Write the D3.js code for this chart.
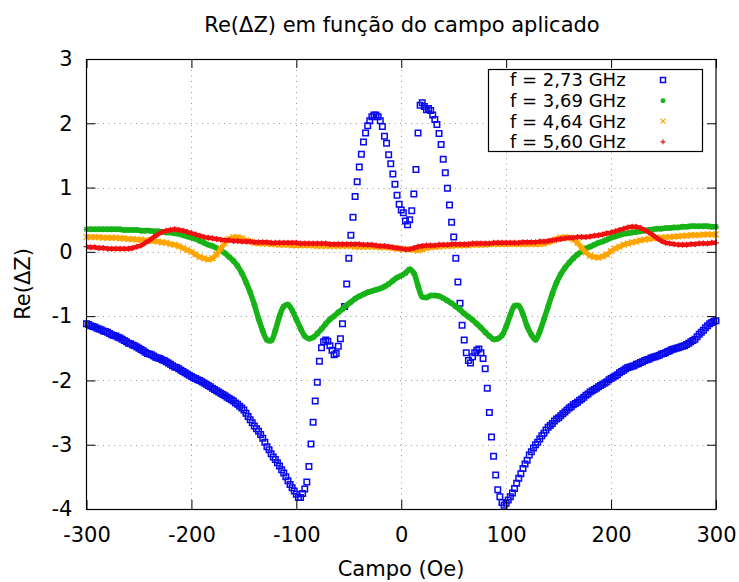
<!DOCTYPE html>
<html>
<head>
<meta charset="utf-8">
<script src="https://cdn.jsdelivr.net/npm/d3@7"></script>
<style>
  body { margin: 0; background: #fff; }
  svg { font-family: "DejaVu Sans", sans-serif; }
</style>
</head>
<body>
<svg id="chart" width="739" height="582"></svg>
<script>
// campo aplicado (Oe)
const fieldBlue = d3.range(-300, 301, 2);
const fieldSmooth = d3.range(-300, 301, 4);

// f = 2,73 GHz  (step 2 Oe)
const reBlue = [
  -1.12,-1.13,-1.15,-1.16,-1.17,-1.19,-1.20,-1.21,-1.23,-1.24,
  -1.25,-1.27,-1.29,-1.30,-1.31,-1.33,-1.34,-1.36,-1.38,-1.40,
  -1.42,-1.43,-1.45,-1.46,-1.48,-1.50,-1.52,-1.54,-1.56,-1.58,
  -1.59,-1.60,-1.62,-1.64,-1.65,-1.66,-1.68,-1.69,-1.71,-1.73,
  -1.75,-1.77,-1.79,-1.80,-1.82,-1.84,-1.86,-1.88,-1.90,-1.92,
  -1.94,-1.96,-1.97,-1.99,-2.00,-2.02,-2.04,-2.06,-2.08,-2.10,
  -2.12,-2.14,-2.16,-2.18,-2.20,-2.22,-2.24,-2.26,-2.28,-2.30,
  -2.32,-2.35,-2.37,-2.40,-2.43,-2.46,-2.51,-2.56,-2.61,-2.66,
  -2.71,-2.75,-2.79,-2.84,-2.90,-2.96,-3.03,-3.08,-3.14,-3.19,
  -3.23,-3.28,-3.33,-3.39,-3.44,-3.50,-3.56,-3.62,-3.67,-3.72,
  -3.77,-3.82,-3.82,-3.76,-3.69,-3.58,-3.34,-2.99,-2.65,-2.32,
  -2.03,-1.70,-1.49,-1.40,-1.37,-1.39,-1.46,-1.53,-1.60,-1.58,
  -1.47,-1.35,-1.12,-0.85,-0.50,-0.10,0.26,0.54,0.86,1.09,
  1.32,1.52,1.71,1.85,1.96,2.04,2.10,2.13,2.13,2.10,
  2.04,1.95,1.80,1.69,1.51,1.37,1.21,1.05,0.88,0.74,
  0.65,0.61,0.48,0.42,0.50,0.64,0.90,1.28,1.85,2.28,
  2.32,2.26,2.21,2.23,2.20,2.13,2.06,1.98,1.84,1.67,
  1.44,1.23,0.99,0.73,0.46,0.23,-0.10,-0.47,-0.80,-1.14,
  -1.37,-1.57,-1.69,-1.73,-1.63,-1.57,-1.53,-1.51,-1.57,-1.66,
  -1.82,-2.12,-2.50,-2.88,-3.18,-3.47,-3.70,-3.81,-3.90,-3.94,
  -3.91,-3.86,-3.81,-3.75,-3.68,-3.60,-3.52,-3.45,-3.37,-3.30,
  -3.24,-3.16,-3.11,-3.05,-3.00,-2.96,-2.91,-2.86,-2.82,-2.77,
  -2.73,-2.70,-2.67,-2.63,-2.60,-2.58,-2.55,-2.52,-2.49,-2.46,
  -2.43,-2.41,-2.38,-2.36,-2.34,-2.31,-2.29,-2.26,-2.23,-2.21,
  -2.18,-2.16,-2.14,-2.12,-2.10,-2.08,-2.06,-2.04,-2.02,-1.99,
  -1.97,-1.95,-1.93,-1.91,-1.88,-1.86,-1.84,-1.82,-1.80,-1.79,
  -1.78,-1.77,-1.75,-1.74,-1.72,-1.71,-1.69,-1.68,-1.67,-1.65,
  -1.64,-1.63,-1.62,-1.61,-1.59,-1.58,-1.57,-1.55,-1.54,-1.52,
  -1.51,-1.50,-1.49,-1.48,-1.47,-1.46,-1.44,-1.42,-1.40,-1.38,
  -1.36,-1.32,-1.28,-1.25,-1.22,-1.18,-1.15,-1.12,-1.10,-1.08,
  -1.07
];

// f = 3,69 GHz  (step 4 Oe)
const reGreen = [
  0.35,0.35,0.35,0.35,0.35,0.35,0.35,0.35,0.35,0.34,
  0.34,0.34,0.34,0.33,0.33,0.33,0.32,0.32,0.31,0.30,
  0.30,0.29,0.28,0.26,0.24,0.22,0.20,0.17,0.14,0.11,
  0.09,0.06,0.02,-0.02,-0.08,-0.14,-0.22,-0.33,-0.47,-0.63,
  -0.82,-1.04,-1.23,-1.37,-1.38,-1.22,-1.00,-0.85,-0.82,-0.91,
  -1.05,-1.19,-1.31,-1.35,-1.33,-1.27,-1.20,-1.12,-1.05,-1.00,
  -0.94,-0.89,-0.83,-0.78,-0.73,-0.69,-0.66,-0.63,-0.61,-0.59,
  -0.57,-0.54,-0.50,-0.45,-0.40,-0.37,-0.33,-0.27,-0.33,-0.53,
  -0.70,-0.71,-0.68,-0.68,-0.69,-0.72,-0.76,-0.80,-0.85,-0.90,
  -0.96,-1.01,-1.06,-1.12,-1.18,-1.25,-1.31,-1.36,-1.35,-1.30,
  -1.16,-0.98,-0.84,-0.84,-0.97,-1.16,-1.29,-1.37,-1.24,-1.05,
  -0.85,-0.65,-0.48,-0.35,-0.25,-0.17,-0.10,-0.04,0.01,0.05,
  0.08,0.11,0.14,0.16,0.19,0.22,0.24,0.26,0.28,0.29,
  0.30,0.31,0.32,0.33,0.34,0.35,0.36,0.36,0.37,0.37,
  0.38,0.38,0.39,0.39,0.40,0.40,0.40,0.40,0.40,0.39,
  0.39
];

// f = 4,64 GHz  (step 4 Oe)
const reOrange = [
  0.23,0.23,0.23,0.23,0.22,0.22,0.22,0.22,0.21,0.21,
  0.20,0.20,0.19,0.19,0.18,0.17,0.17,0.16,0.15,0.14,
  0.12,0.11,0.09,0.06,0.03,0.00,-0.04,-0.08,-0.10,-0.12,
  -0.10,-0.04,0.05,0.14,0.20,0.23,0.23,0.21,0.18,0.16,
  0.14,0.13,0.13,0.13,0.12,0.12,0.11,0.11,0.11,0.10,
  0.10,0.10,0.10,0.10,0.10,0.09,0.09,0.09,0.09,0.09,
  0.09,0.09,0.09,0.09,0.08,0.08,0.08,0.08,0.08,0.08,
  0.07,0.07,0.07,0.06,0.05,0.05,0.04,0.04,0.03,0.02,
  0.04,0.06,0.07,0.08,0.08,0.09,0.09,0.09,0.10,0.10,
  0.10,0.10,0.11,0.11,0.11,0.11,0.12,0.12,0.12,0.12,
  0.12,0.12,0.12,0.12,0.12,0.12,0.12,0.12,0.12,0.13,
  0.15,0.17,0.20,0.22,0.23,0.22,0.19,0.14,0.06,-0.01,
  -0.06,-0.08,-0.09,-0.07,-0.04,0.01,0.05,0.08,0.11,0.13,
  0.15,0.16,0.18,0.19,0.20,0.21,0.22,0.22,0.23,0.23,
  0.24,0.24,0.25,0.25,0.26,0.26,0.26,0.27,0.27,0.27,
  0.27
];

// f = 5,60 GHz  (step 4 Oe)
const reRed = [
  0.08,0.07,0.07,0.06,0.06,0.05,0.05,0.05,0.05,0.05,
  0.05,0.06,0.08,0.10,0.14,0.18,0.23,0.27,0.31,0.33,
  0.34,0.35,0.34,0.33,0.31,0.29,0.27,0.25,0.23,0.22,
  0.21,0.20,0.19,0.18,0.18,0.17,0.17,0.16,0.16,0.16,
  0.15,0.15,0.15,0.15,0.14,0.14,0.14,0.14,0.14,0.14,
  0.14,0.13,0.13,0.13,0.13,0.13,0.13,0.13,0.12,0.12,
  0.12,0.12,0.12,0.12,0.12,0.12,0.11,0.11,0.11,0.10,
  0.09,0.09,0.08,0.07,0.06,0.05,0.04,0.04,0.06,0.08,
  0.09,0.10,0.10,0.10,0.11,0.11,0.11,0.12,0.12,0.12,
  0.12,0.12,0.13,0.13,0.13,0.13,0.13,0.14,0.14,0.14,
  0.14,0.14,0.14,0.14,0.15,0.15,0.15,0.15,0.16,0.16,
  0.17,0.18,0.19,0.20,0.21,0.22,0.22,0.23,0.23,0.23,
  0.24,0.25,0.26,0.27,0.29,0.30,0.32,0.34,0.36,0.38,
  0.39,0.39,0.37,0.34,0.30,0.26,0.21,0.17,0.14,0.13,
  0.12,0.11,0.11,0.11,0.12,0.12,0.13,0.13,0.13,0.14,
  0.14
];

const legendLabels = ['f = 2,73 GHz', 'f = 3,69 GHz', 'f = 4,64 GHz', 'f = 5,60 GHz'];
const xTicks = [-300, -200, -100, 0, 100, 200, 300];
const yTicks = [-4, -3, -2, -1, 0, 1, 2, 3];

const series = [
  { label: legendLabels[0], field: fieldBlue, values: reBlue, color: '#0a0aee', marker: 'square', band: 0 },
  { label: legendLabels[1], field: fieldSmooth, values: reGreen, color: '#17b317', marker: 'star', band: 5.5 },
  { label: legendLabels[2], field: fieldSmooth, values: reOrange, color: '#ffa500', marker: 'times', band: 5 },
  { label: legendLabels[3], field: fieldSmooth, values: reRed, color: '#f01010', marker: 'plus', band: 4.5 },
];

const svg = d3.select('#chart');
const pLeft = 86.5, pRight = 716, pTop = 59, pBottom = 509;
const x = d3.scaleLinear().domain([-300, 300]).range([pLeft, pRight]);
const y = d3.scaleLinear().domain([-4, 3]).range([pBottom, pTop]);

function markerPath(type, s) {
    const h = s / 2;
    const plus = `M${-h},0H${h}M0,${-h}V${h}`;
    const times = `M${-h},${-h}L${h},${h}M${-h},${h}L${h},${-h}`;
    if (type === 'plus') return plus;
    if (type === 'times') return times;
    if (type === 'star') return plus + `M${-h * 0.75},${-h * 0.75}L${h * 0.75},${h * 0.75}M${-h * 0.75},${h * 0.75}L${h * 0.75},${-h * 0.75}`;
    return `M${-h},${-h}H${h}V${h}H${-h}Z`;
}
const markerSize = (m) => (m === 'square' ? 5.5 : 6);
const markerStroke = (m) => (m === 'square' ? 1.5 : 1.2);

// grid
const grid = svg.append('g').attr('stroke', '#9a9a9a').attr('stroke-width', 1).attr('stroke-dasharray', '1,4.5');
grid.selectAll('line.gx')
    .data(xTicks.slice(1, -1))
    .join('line')
    .attr('class', 'gx')
    .attr('x1', (d) => Math.round(x(d)) + 0.5)
    .attr('x2', (d) => Math.round(x(d)) + 0.5)
    .attr('y1', pTop)
    .attr('y2', pBottom);
grid.selectAll('line.gy')
    .data(yTicks.slice(1, -1))
    .join('line')
    .attr('class', 'gy')
    .attr('x1', pLeft)
    .attr('x2', pRight)
    .attr('y1', (d) => Math.round(y(d)) + 0.5)
    .attr('y2', (d) => Math.round(y(d)) + 0.5);

// series
const line = d3.line().x((d) => x(d[0])).y((d) => y(d[1])).curve(d3.curveCatmullRom);
series.forEach((s) => {
    const pts = d3.zip(s.field, s.values);
    const g = svg.append('g');
    if (s.band)
        g.append('path')
            .attr('d', line(pts))
            .attr('fill', 'none')
            .attr('stroke', s.color)
            .attr('stroke-width', s.band)
            .attr('stroke-linejoin', 'round');
    g.selectAll('path.pt')
        .data(pts)
        .join('path')
        .attr('class', 'pt')
        .attr('transform', (d) => `translate(${x(d[0])},${y(d[1])})`)
        .attr('d', markerPath(s.marker, markerSize(s.marker)))
        .attr('fill', 'none')
        .attr('stroke', s.color)
        .attr('stroke-width', markerStroke(s.marker));
});

// axes (inward ticks, mirrored)
const fontSize = 21;
svg.append('g').attr('transform', `translate(0,${pBottom})`)
    .call(d3.axisBottom(x).tickValues(xTicks).tickSize(-9).tickPadding(18).tickFormat(d3.format('d')));
svg.append('g').attr('transform', `translate(${pLeft},0)`)
    .call(d3.axisLeft(y).tickValues(yTicks).tickSize(-9).tickPadding(14).tickFormat(d3.format('d')));
svg.append('g').attr('transform', `translate(0,${pTop})`)
    .call(d3.axisTop(x).tickValues(xTicks).tickSize(-9).tickFormat(''));
svg.append('g').attr('transform', `translate(${pRight},0)`)
    .call(d3.axisRight(y).tickValues(yTicks).tickSize(-9).tickFormat(''));
svg.selectAll('.domain').remove();
svg.selectAll('.tick line').attr('stroke', '#000');
svg.selectAll('.tick text')
    .attr('fill', '#000')
    .style('font-family', '"DejaVu Sans", sans-serif')
    .style('font-size', `${fontSize}px`)
    .text(function () { return d3.select(this).text().replace('−', '-'); });

svg.append('rect')
    .attr('x', pLeft)
    .attr('y', pTop + 0.5)
    .attr('width', pRight - pLeft)
    .attr('height', pBottom - pTop)
    .attr('fill', 'none')
    .attr('stroke', '#000')
    .attr('stroke-width', 1.2);

// titles
svg.append('text')
    .attr('x', 402)
    .attr('y', 32)
    .attr('text-anchor', 'middle')
    .style('font-size', `${fontSize}px`)
    .text('Re(ΔZ) em função do campo aplicado');
svg.append('text')
    .attr('x', 401)
    .attr('y', 576)
    .attr('text-anchor', 'middle')
    .style('font-size', `${fontSize}px`)
    .text('Campo (Oe)');
svg.append('text')
    .attr('transform', `translate(30,${(pTop + pBottom) / 2}) rotate(-90)`)
    .attr('text-anchor', 'middle')
    .style('font-size', `${fontSize}px`)
    .text('Re(ΔZ)');

// legend
const key = svg.append('g');
key.append('rect')
    .attr('x', 488.5)
    .attr('y', 69.5)
    .attr('width', 214)
    .attr('height', 82)
    .attr('fill', '#fff')
    .attr('stroke', '#000')
    .attr('stroke-width', 1.2);
const rows = key.selectAll('g.row')
    .data(series)
    .join('g')
    .attr('class', 'row')
    .attr('transform', (d, i) => `translate(0,${80 + i * 20.6})`);
rows.append('text')
    .attr('x', 510)
    .attr('y', 0)
    .attr('dy', '0.36em')
    .style('font-size', '18px')
    .text((d) => d.label);
rows.append('path')
    .attr('transform', 'translate(663,0)')
    .attr('d', (d) => markerPath(d.marker, d.marker === 'square' ? 5 : 5))
    .attr('fill', 'none')
    .attr('stroke', (d) => d.color)
    .attr('stroke-width', (d) => markerStroke(d.marker));
</script>
</body>
</html>
